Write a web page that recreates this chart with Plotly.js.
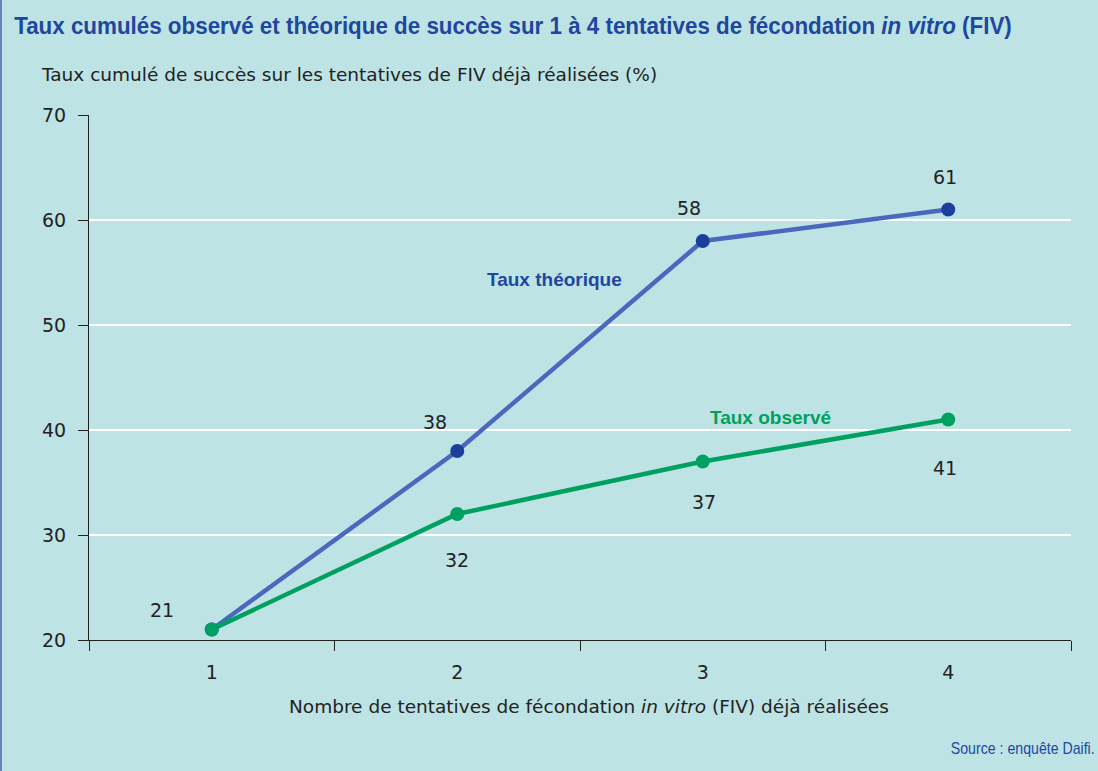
<!DOCTYPE html>
<html>
<head>
<meta charset="utf-8">
<script src="https://cdn.plot.ly/plotly-3.0.1.min.js"></script>
<style>
html,body{margin:0;padding:0;background:#bde3e5;}
#chart{width:1098px;height:771px;}
</style>
</head>
<body>
<div id="chart"></div>
<script>
const attempts = [1, 2, 3, 4];
const theoretical = [21, 38, 58, 61];
const observed = [21, 32, 37, 41];
const yTicks = [20, 30, 40, 50, 60, 70];

const W = 1098, H = 771;
const M = {l: 89, r: 27, t: 115, b: 131};
const pw = W - M.l - M.r, ph = H - M.t - M.b;
const px = v => (v - M.l) / pw;          // pixel -> paper x
const py = v => (H - M.b - v) / ph;      // pixel -> paper y

const bg = '#bde3e5';
const blueLine = '#4a68bd', blueDot = '#1c3f9c';
const green = '#00a060';
const titleBlue = '#1f47a0';
const txt = '#222222';
const bodyFont = 'DejaVu Sans, sans-serif';
const boldFont = 'Liberation Sans, Arial, sans-serif';

const traces = [
  {x: attempts, y: theoretical, type: 'scatter', mode: 'lines+markers',
   line: {color: blueLine, width: 4.5}, marker: {color: blueDot, size: 14},
   hoverinfo: 'skip', showlegend: false},
  {x: attempts, y: observed, type: 'scatter', mode: 'lines+markers',
   line: {color: green, width: 4.5}, marker: {color: green, size: 14},
   hoverinfo: 'skip', showlegend: false},
  {x: [0.5, 4.5], y: [20, 20], xaxis: 'x2', type: 'scatter', mode: 'none',
   hoverinfo: 'skip', showlegend: false}
];

const annotations = [];
const thShift = [[-50, 18], [-22, 29], [-14, 33], [-3, 33]];
theoretical.forEach((v, i) => {
  if (i === 0) return;
  annotations.push({x: attempts[i], y: v, text: String(v), showarrow: false,
    xshift: thShift[i][0], yshift: thShift[i][1],
    font: {family: bodyFont, size: 19, color: txt}});
});
const obShift = [[-50, 20], [0, -46], [1, -40], [-3, -48]];
observed.forEach((v, i) => {
  annotations.push({x: attempts[i], y: v, text: String(v), showarrow: false,
    xshift: obShift[i][0], yshift: obShift[i][1],
    font: {family: bodyFont, size: 19, color: txt}});
});
annotations.push(
  {xref: 'paper', yref: 'paper', x: px(554), y: py(279), xanchor: 'center', yanchor: 'middle',
   text: '<b>Taux théorique</b>',
   showarrow: false, font: {family: boldFont, size: 19, color: titleBlue}},
  {xref: 'paper', yref: 'paper', x: px(770), y: py(417), xanchor: 'center', yanchor: 'middle',
   text: '<b>Taux observé</b>',
   showarrow: false, font: {family: boldFont, size: 19, color: green}},
  {xref: 'paper', yref: 'paper', x: px(12), y: py(26), xanchor: 'left', yanchor: 'middle',
   text: '<b>Taux cumulés observé et théorique de succès sur 1 à 4 tentatives de fécondation <i>in vitro</i> (FIV)</b>',
   showarrow: false, font: {family: boldFont, size: 24.5, color: titleBlue}},
  {xref: 'paper', yref: 'paper', x: px(39), y: py(74), xanchor: 'left', yanchor: 'middle',
   text: 'Taux cumulé de succès sur les tentatives de FIV déjà réalisées (%)',
   showarrow: false, font: {family: bodyFont, size: 18.5, color: txt}},
  {xref: 'paper', yref: 'paper', x: px(589), y: py(706), xanchor: 'center', yanchor: 'middle',
   text: 'Nombre de tentatives de fécondation <i>in vitro</i> (FIV) déjà réalisées',
   showarrow: false, font: {family: bodyFont, size: 18.5, color: txt}},
  {xref: 'paper', yref: 'paper', x: px(1097), y: py(748), xanchor: 'right', yanchor: 'middle',
   text: 'Source : enquête Daifi.',
   showarrow: false, font: {family: boldFont, size: 16, color: titleBlue}}
);

const layout = {
  width: W, height: H,
  margin: M,
  paper_bgcolor: bg, plot_bgcolor: bg,
  showlegend: false,
  xaxis: {range: [0.5, 4.5], tickvals: attempts, ticktext: attempts.map(String),
    showgrid: false, zeroline: false, showline: true, linecolor: '#222', linewidth: 1,
    ticks: '', ticklabelstandoff: 15, tickfont: {family: bodyFont, size: 19, color: txt}, fixedrange: true},
  xaxis2: {range: [0.5, 4.5], overlaying: 'x', tickvals: [0.5, 1.5, 2.5, 3.5, 4.5],
    showticklabels: false, ticks: 'outside', ticklen: 10, tickcolor: '#222', tickwidth: 1,
    showgrid: false, zeroline: false, showline: false, side: 'bottom', fixedrange: true},
  yaxis: {range: [20, 70], tickvals: yTicks, ticks: 'outside', ticklen: 10, tickcolor: '#222',
    tickwidth: 1, showline: true, linecolor: '#222', linewidth: 1, ticklabelstandoff: 8,
    showgrid: true, gridcolor: '#ffffff', gridwidth: 2.5, zeroline: false,
    tickfont: {family: bodyFont, size: 19, color: txt}, fixedrange: true},
  annotations: annotations,
  shapes: [
    {type: 'line', xref: 'paper', yref: 'paper', x0: px(1), x1: px(1), y0: py(0), y1: py(771),
     line: {color: '#6a7fc6', width: 2}}
  ]
};

// horizontally condense the title and source note to match the narrow typeface
const squeeze = [
  {match: 'Taux cumulés observé', width: 998, right: false},
  {match: 'Source :', width: 144, right: true}
];

Plotly.newPlot('chart', traces, layout, {displayModeBar: false, staticPlot: true}).then(() => {
  document.querySelectorAll('#chart .annotation-text').forEach(t => {
    const s = squeeze.find(q => t.textContent.indexOf(q.match) === 0);
    if (!s) return;
    const bb = t.getBBox();
    const k = s.width / bb.width;
    const ox = s.right ? bb.x + bb.width : bb.x;
    t.setAttribute('transform', `translate(${ox} 0) scale(${k} 1) translate(${-ox} 0)`);
  });
});
</script>
</body>
</html>
